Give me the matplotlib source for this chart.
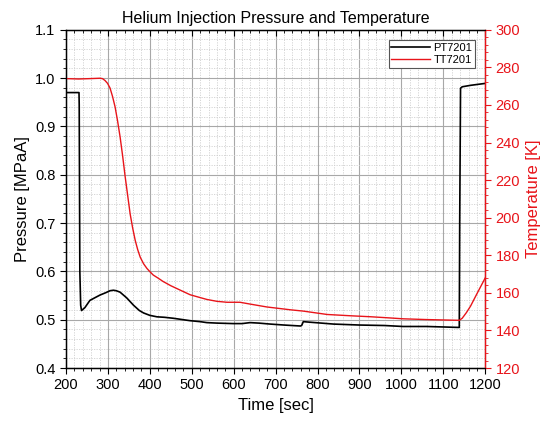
import matplotlib
matplotlib.use('Agg')
import matplotlib.pyplot as plt
from matplotlib.ticker import MultipleLocator

plt.rcParams['font.family'] = ['Liberation Sans', 'DejaVu Sans']

# PT7201 pressure [MPaA] vs time [sec]
pt_time = [200, 231, 231.5, 233, 235, 237, 245, 257, 270, 281, 295, 305, 313, 320, 329,
           345, 361, 375, 385, 400, 417, 435, 456, 480, 496, 520, 536, 560, 599, 620,
           639, 660, 687, 720, 759, 762, 766, 780, 838, 900, 960, 1004, 1060, 1100,
           1138, 1139, 1141, 1145, 1165, 1200]
pt_press = [0.970, 0.970, 0.945, 0.60, 0.53, 0.519, 0.525, 0.540, 0.546, 0.551, 0.556, 0.560,
            0.561, 0.560, 0.557, 0.545, 0.530, 0.519, 0.514, 0.509, 0.506, 0.505, 0.503,
            0.500, 0.498, 0.496, 0.494, 0.493, 0.492, 0.492, 0.494, 0.493, 0.491, 0.489,
            0.487, 0.488, 0.496, 0.495, 0.491, 0.489, 0.488, 0.486, 0.486, 0.485,
            0.484, 0.70, 0.979, 0.982, 0.985, 0.989]

# TT7201 temperature [K] vs time [sec]
tt_time = [200, 230, 257, 281, 287, 293, 299, 305, 311, 317, 323, 329, 335, 341, 347,
           353, 359, 365, 371, 377, 385, 393, 400, 408, 420, 432, 450, 472, 496, 515,
           536, 560, 584, 615, 640, 679, 735, 766, 823, 880, 926, 970, 1004, 1060,
           1117, 1138, 1145, 1155, 1165, 1180, 1200]
tt_temp = [274, 273.8, 274, 274.2, 274, 273, 271.5, 269, 264.5, 259, 251.5, 243, 233,
           222, 212, 202, 194.5, 188, 183, 179, 175.5, 173, 171.3, 169.5, 167.8, 166,
           163.8, 161.5, 159, 157.8, 156.5, 155.5, 155, 155, 154, 152.5, 151, 150.3,
           148.5, 147.8, 147.3, 146.7, 146.2, 145.8, 145.5, 145.4, 146.5, 149.5, 153,
           159.5, 168]

fig, ax = plt.subplots(figsize=(5.41, 4.25), dpi=100)
fig.subplots_adjust(left=0.122, right=0.897, top=0.93, bottom=0.134)
ax2 = ax.twinx()

l1, = ax.plot(pt_time, pt_press, color='black', lw=1.2, label='PT7201')
l2, = ax2.plot(tt_time, tt_temp, color='#e8141a', lw=1.0, label='TT7201')

ax.set_xlim(200, 1200)
ax.set_ylim(0.4, 1.1)
ax2.set_ylim(120, 300)

ax.xaxis.set_major_locator(MultipleLocator(100))
ax.xaxis.set_minor_locator(MultipleLocator(20))
ax.yaxis.set_major_locator(MultipleLocator(0.1))
ax.yaxis.set_minor_locator(MultipleLocator(0.02))
ax2.yaxis.set_major_locator(MultipleLocator(20))
ax2.yaxis.set_minor_locator(MultipleLocator(4))
ax.yaxis.set_major_formatter(matplotlib.ticker.FormatStrFormatter('%.1f'))

ax.grid(which='major', color='#a8a8a8', lw=0.8)
ax.grid(which='minor', color='#d0d0d0', lw=0.6, ls=(0, (1.5, 1.5)))
ax.set_axisbelow(True)

ax.tick_params(axis='x', which='both', direction='out', top=True, labelsize=10.5)
ax.tick_params(axis='y', which='both', direction='out', labelsize=10.5)
ax.tick_params(which='major', length=4)
ax.tick_params(which='minor', length=2)
ax2.tick_params(axis='y', which='both', colors='#e8141a', labelsize=10.5)
ax2.tick_params(which='major', length=4)
ax2.tick_params(which='minor', length=2)
for t in ax.xaxis.get_major_ticks() + ax.xaxis.get_minor_ticks():
    t.tick2line.set_marker(3)

ax2.spines['right'].set_color('#e8141a')
ax2.spines['right'].set_linewidth(1.0)
for s in ['left', 'bottom', 'top']:
    ax.spines[s].set_linewidth(1.0)

ax.set_xlabel('Time [sec]', fontsize=12)
ax.set_ylabel('Pressure [MPaA]', fontsize=12)
ax2.set_ylabel('Temperature [K]', fontsize=12, color='#e8141a')
ax.set_title('Helium Injection Pressure and Temperature', fontsize=11.5, pad=5)

leg = ax2.legend(handles=[l1, l2], loc='upper right', fontsize=8, frameon=True,
                 fancybox=False, edgecolor='#555555', framealpha=1,
                 borderpad=0.25, labelspacing=0.2, handlelength=3.5,
                 handletextpad=0.3, borderaxespad=0.9)
leg.get_frame().set_linewidth(0.8)

plt.savefig('out.png', dpi=100)
